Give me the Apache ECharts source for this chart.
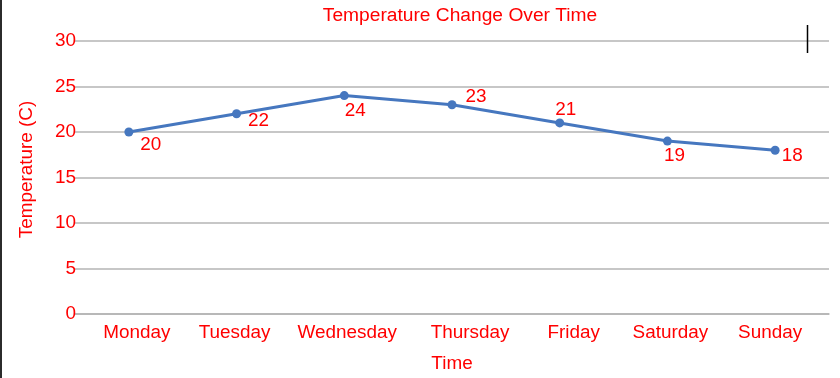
<!DOCTYPE html>
<html>
<head>
<meta charset="utf-8">
<script src="https://cdn.jsdelivr.net/npm/echarts@6/dist/echarts.min.js"></script>
<style>
html,body{margin:0;padding:0;background:#fff;}
#chart{width:840px;height:378px;}
</style>
</head>
<body>
<div id="chart"></div>
<script>
// ---- data ----
const categories = ['Monday', 'Tuesday', 'Wednesday', 'Thursday', 'Friday', 'Saturday', 'Sunday'];
const temperatures = [20, 22, 24, 23, 21, 19, 18];
const yTicks = [0, 5, 10, 15, 20, 25, 30];
const titleText = 'Temperature Change Over Time';
const xName = 'Time';
const yName = 'Temperature (C)';

// ---- styling (label nudges as in the reference) ----
const labelNudge = [[22, 13], [22, 7], [11, 15], [24, -8], [6, -13], [7, 15], [17, 6]];
const xLabelShift = [8, -2, 3, 18, 14, 3, -5];

const FONT = 'Liberation Sans, Arial, sans-serif';
const RED = '#ff0000';

const rich = {};
xLabelShift.forEach((s, i) => {
  rich['c' + i] = {
    color: RED, fontSize: 18.9, fontFamily: FONT,
    padding: s >= 0 ? [0, 0, 0, 2 * s] : [0, -2 * s, 0, 0]
  };
});

const chart = echarts.init(document.getElementById('chart'), null, {renderer: 'canvas'});
chart.setOption({
  animation: false,
  backgroundColor: '#ffffff',
  title: {
    text: titleText,
    left: 455,
    top: 1,
    textAlign: 'center',
    textStyle: {color: RED, fontSize: 19.2, fontWeight: 'normal', fontFamily: FONT}
  },
  grid: {left: 75, right: 11, top: 41, bottom: 62, containLabel: false},
  xAxis: {
    type: 'category',
    data: categories,
    boundaryGap: true,
    axisLine: {show: true, lineStyle: {color: '#b4b4b4', width: 1.5}},
    axisTick: {show: false},
    axisLabel: {
      margin: 9,
      interval: 0,
      formatter: (v, i) => '{c' + i + '|' + v + '}',
      rich: rich
    },
    name: xName,
    nameLocation: 'middle',
    nameGap: 40,
    nameTextStyle: {color: RED, fontSize: 18.9, fontFamily: FONT}
  },
  yAxis: {
    type: 'value',
    min: yTicks[0],
    max: yTicks[yTicks.length - 1],
    interval: yTicks[1] - yTicks[0],
    axisLine: {show: false},
    axisTick: {show: false},
    splitLine: {show: true, lineStyle: {color: '#b4b4b4', width: 1.5}},
    axisLabel: {margin: -1, color: RED, fontSize: 18.9, fontFamily: FONT},
    name: yName,
    nameLocation: 'middle',
    nameGap: 39,
    nameRotate: 90,
    nameTextStyle: {color: RED, fontSize: 18.9, fontFamily: FONT, padding: [0, 0, 0, 16]}
  },
  series: [{
    type: 'line',
    data: temperatures.map((v, i) => ({
      value: v,
      label: {offset: labelNudge[i]}
    })),
    symbol: 'circle',
    symbolSize: 9,
    showAllSymbol: true,
    lineStyle: {color: '#4677bf', width: 3},
    itemStyle: {color: '#4677bf'},
    label: {
      show: true,
      position: 'inside',
      color: RED,
      fontSize: 18.9,
      fontFamily: FONT
    }
  }],
  graphic: [
    {type: 'rect', left: 0, top: 0, shape: {width: 2, height: 378}, style: {fill: '#2b2b2b'}, z: 100},
    {type: 'line', shape: {x1: 807.5, y1: 25, x2: 807.5, y2: 53}, style: {stroke: '#000', lineWidth: 1.5}, z: 100}
  ]
});
</script>
</body>
</html>
